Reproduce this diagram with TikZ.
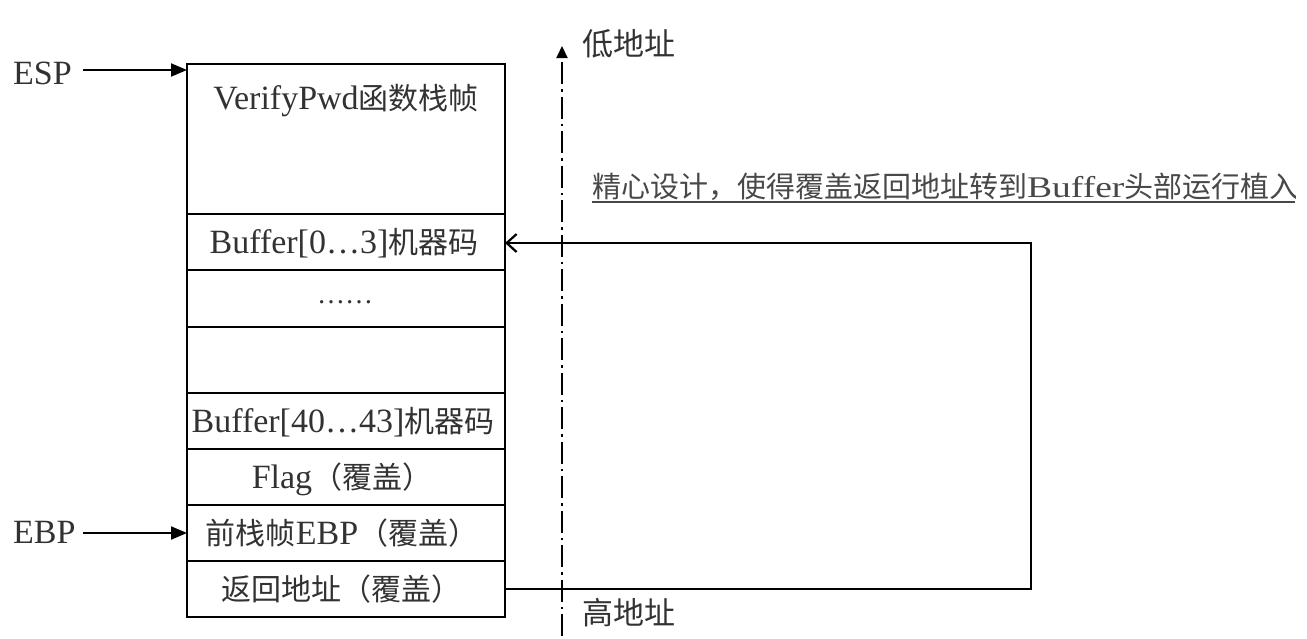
\documentclass[tikz,border=0pt]{standalone}
\usepackage{fontspec}
\setmainfont{Liberation Serif}
\newfontfamily\cjkfont{Noto Sans CJK SC}
\usetikzlibrary{arrows.meta}
\definecolor{txtgray}{RGB}{50,50,50}
\definecolor{notegray}{RGB}{72,72,72}
\newcommand\zhtxt[1]{{\cjkfont\fontsize{30}{36}\selectfont #1}}
\newcommand\zhnote[1]{{\cjkfont\fontsize{29}{34}\selectfont #1}}
\tikzset{
  cell/.style={draw=black, line width=2.2pt, minimum width=318pt, inner sep=0pt, outer sep=0pt},
  celltxt/.style={anchor=base, inner sep=0pt, text=txtgray, font=\fontsize{34}{38}\selectfont},
  ptr/.style={line width=2pt, -{Triangle[length=16pt,width=13pt]}},
  retarrow/.style={line width=2.6pt, line join=miter, -{Straight Barb[length=10pt,width=18pt,line width=2.2pt]}},
  axis/.style={line width=2pt, dash pattern=on 22pt off 5pt on 2.5pt off 5pt, -{Triangle[length=12pt,width=11pt,sep=0pt]}},
  sidelbl/.style={anchor=base west, inner sep=0pt, text=txtgray, font=\fontsize{34}{38}\selectfont},
}
\begin{document}
\begin{tikzpicture}[x=1pt,y=-1pt]
\useasboundingbox (0,0) rectangle (1307,638);
% stack cells
\node[cell, minimum height=150pt] (r1) at (346,139) {};
\node[cell, minimum height=56pt] (r2) at (346,242) {};
\node[cell, minimum height=57pt] (r3) at (346,298.5) {};
\node[cell, minimum height=66pt] (r4) at (346,360) {};
\node[cell, minimum height=56pt] (r5) at (346,421) {};
\node[cell, minimum height=56pt] (r6) at (346,477) {};
\node[cell, minimum height=56pt] (r7) at (346,533) {};
\node[cell, minimum height=56pt] (r8) at (346,589) {};
% cell texts
\node[celltxt] (t1) at (346,109) {VerifyPwd\zhtxt{函数栈帧}};
\node[celltxt] (t2) at (344,253) {Buffer[0…3]\zhtxt{机器码}};
\node[celltxt, font=\fontsize{28}{32}\selectfont] (t3) at (345,303) {……};
\node[celltxt] (t5) at (343,432) {Buffer[40…43]\zhtxt{机器码}};
\node[celltxt] (t6) at (342,488) {Flag\zhtxt{（覆盖）}};
\node[celltxt] (t7) at (342,544) {\zhtxt{前栈帧}EBP\zhtxt{（覆盖）}};
\node[celltxt] (t8) at (341,600) {\zhtxt{返回地址（覆盖）}};
% ESP / EBP pointers
\node[sidelbl] (esp) at (13,84) {ESP};
\node[sidelbl] (ebp) at (13,543) {EBP};
\coordinate (espA) at (83,70);
\coordinate (ebpA) at (83,533);
\draw[ptr] (espA) -- (r1.west |- espA);
\draw[ptr] (ebpA) -- (r7.west);
% address axis
\coordinate (axbot) at (562,636);
\coordinate (axtop) at (562,46);
\draw[axis] (axbot) -- (axtop);
\node[anchor=base west, inner sep=0pt, text=txtgray] (low) at (582,55) {\cjkfont\fontsize{31}{36}\selectfont 低地址};
\node[anchor=base west, inner sep=0pt, text=txtgray] (high) at (582,624) {\cjkfont\fontsize{31}{36}\selectfont 高地址};
% return path
\coordinate (c1) at (1031,589);
\coordinate (c2) at (1031,243);
\draw[retarrow] (r8.east) -- (c1) -- (c2) -- (r2.east |- c2);
% annotation
\begin{scope}
\clip (0,0) rectangle (1295,638);
\node[anchor=base west, inner sep=0pt, text=notegray] (note) at (592,197)
  {\zhnote{精心设计，使得覆盖返回地址转到}\scalebox{1.25}[1]{\fontsize{30}{34}\selectfont Buffer}\zhnote{头部运行植入}};
\draw[notegray, line width=1.3pt] (note.base west) ++(0,5) -- (1295,202);
\end{scope}
\end{tikzpicture}
\end{document}
